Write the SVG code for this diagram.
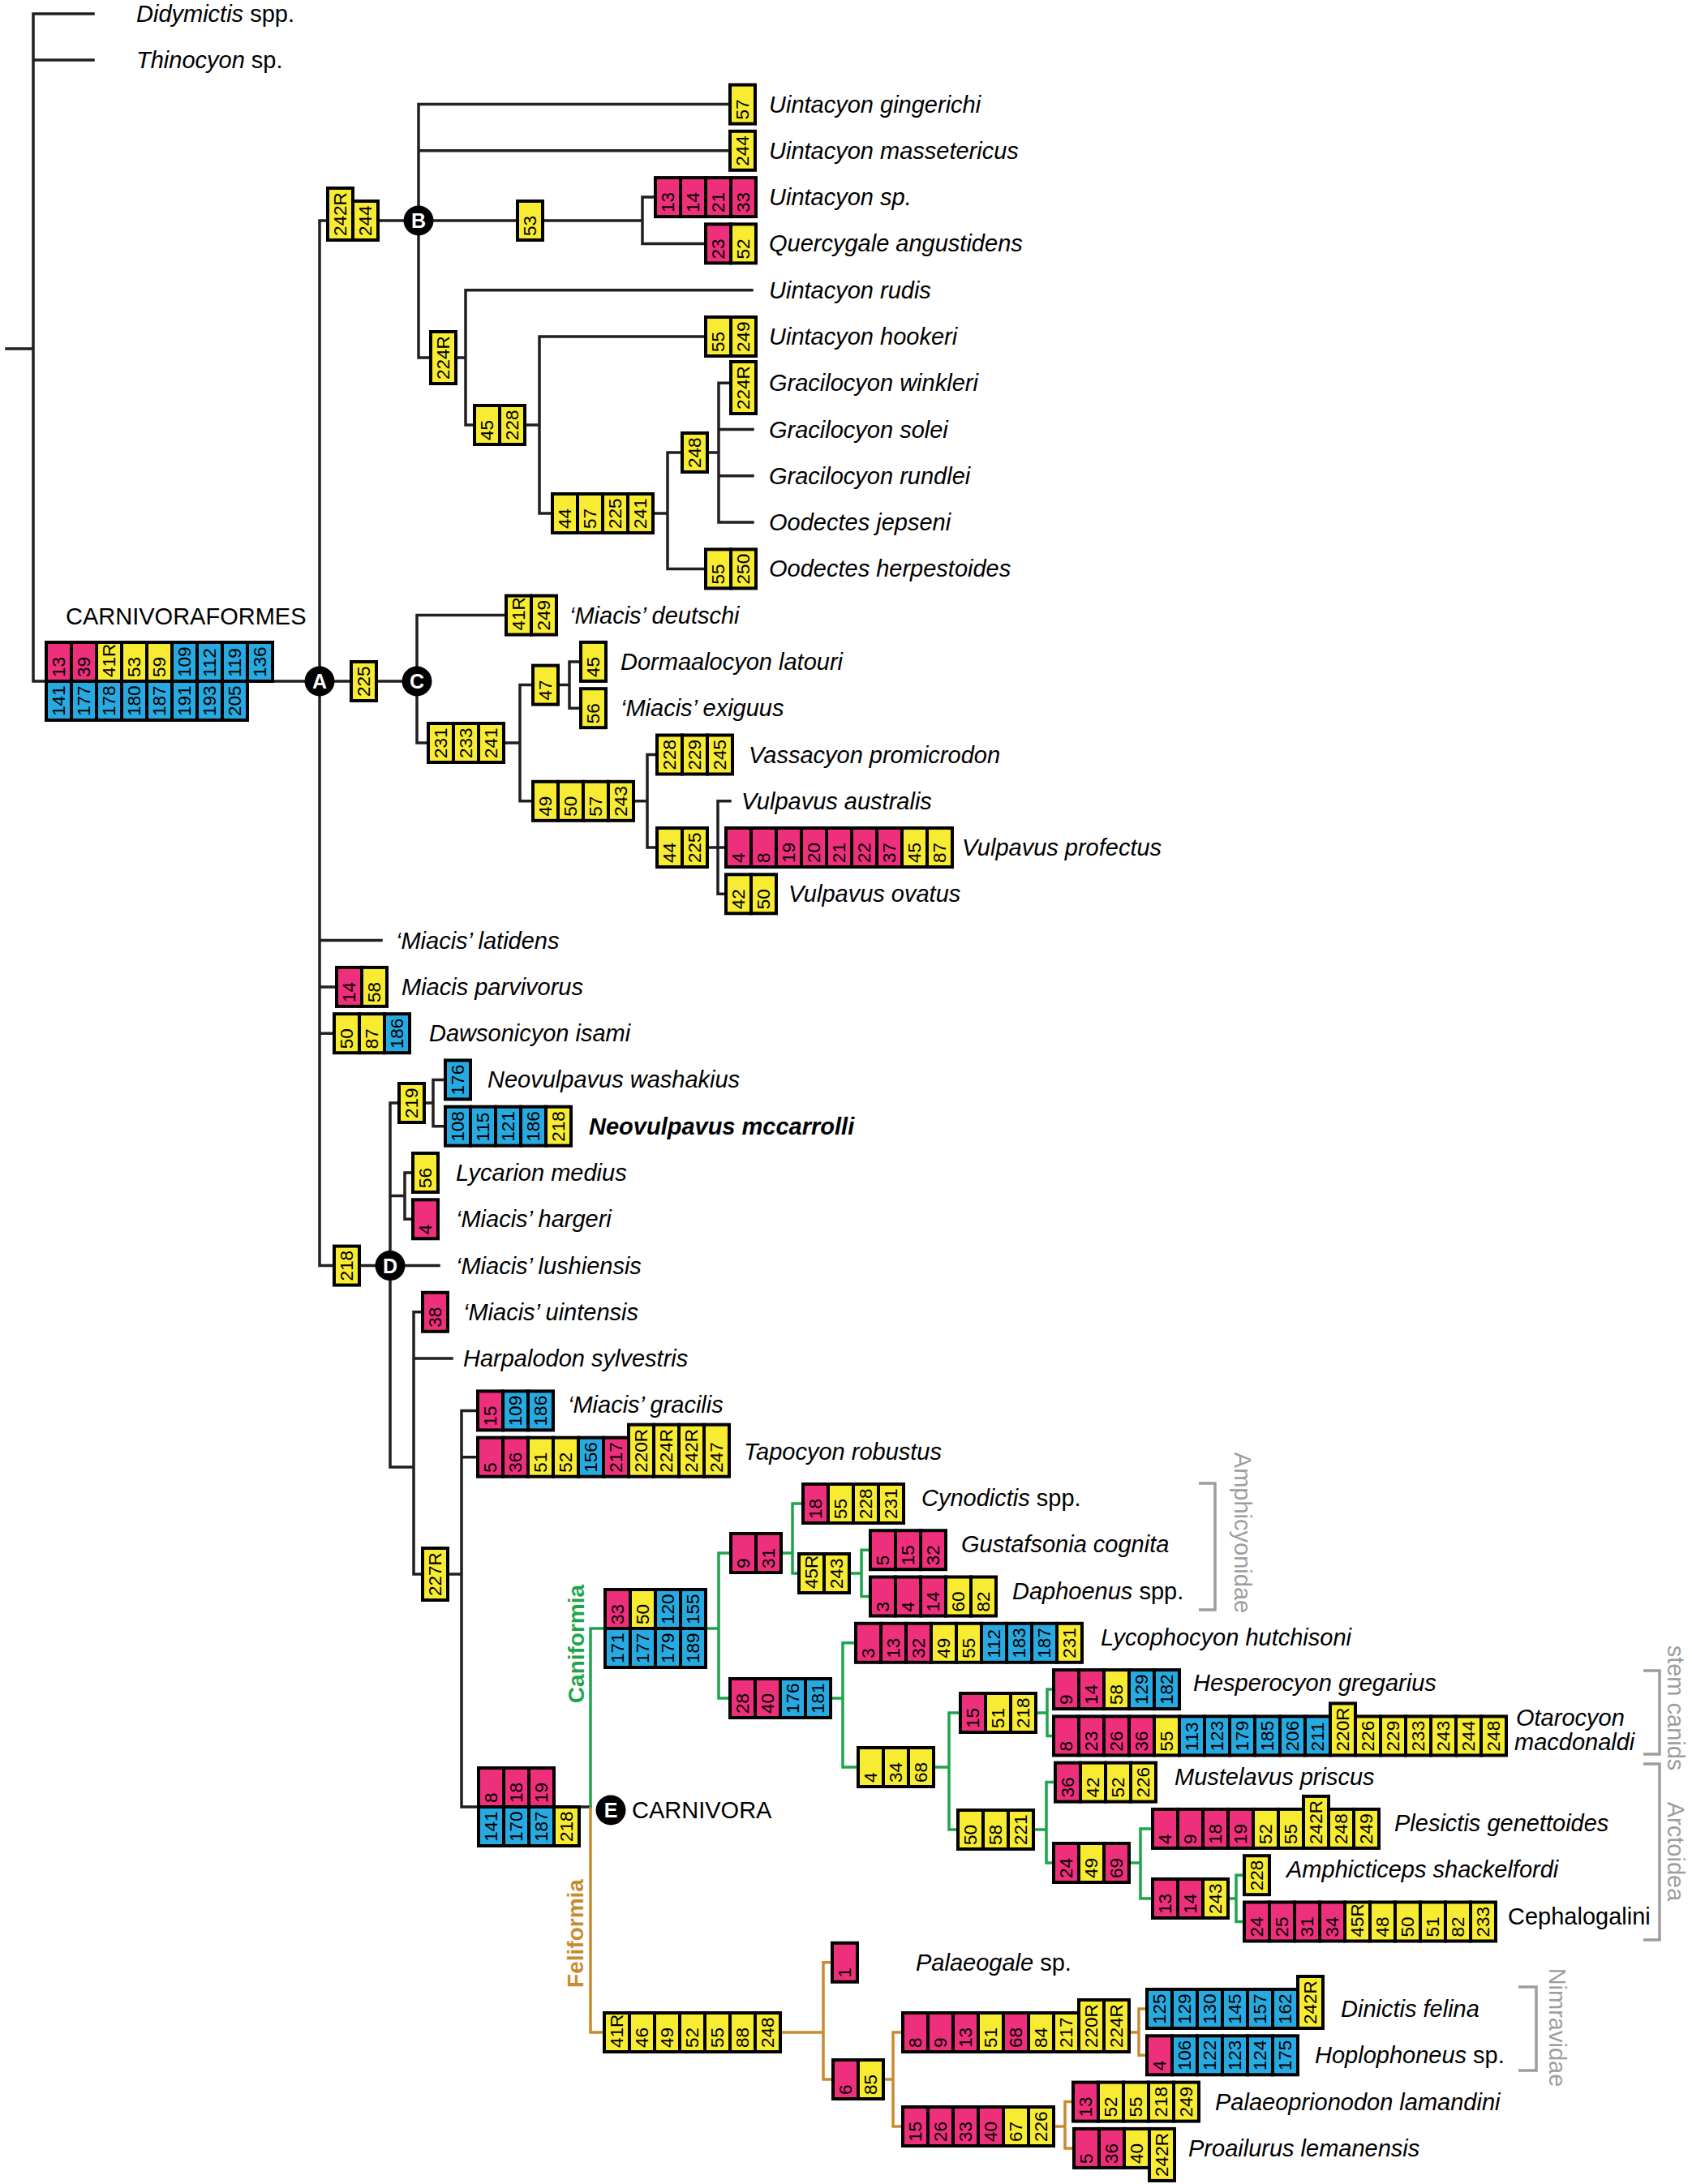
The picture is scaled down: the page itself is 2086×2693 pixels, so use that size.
<svg xmlns="http://www.w3.org/2000/svg" width="2086" height="2693" viewBox="0 0 2086 2693">
<style>
.k{fill:none;stroke:#231f20;stroke-width:3.5;stroke-linecap:square}
.gr{fill:none;stroke:#1ea54b;stroke-width:3.5;stroke-linecap:square}
.or{fill:none;stroke:#c98b32;stroke-width:3.5;stroke-linecap:square}
.br{fill:none;stroke:#9d9d9d;stroke-width:3.5}
rect{stroke:#000;stroke-width:4}
.p{fill:#ee2f7c}.y{fill:#f8ec32}.b{fill:#27aae1}
.n{font-family:"Liberation Sans",Arial,sans-serif;font-size:22.5px;fill:#000}
.t{font-family:"Liberation Sans",Arial,sans-serif;font-size:29px;font-style:italic;fill:#000}
.r{font-style:normal}
.bd{font-weight:bold}
.lab{font-family:"Liberation Sans",Arial,sans-serif;font-size:29px;fill:#000}
.gl{font-family:"Liberation Sans",Arial,sans-serif;font-size:29px;fill:#9d9d9d;text-anchor:middle}
.cl{font-family:"Liberation Sans",Arial,sans-serif;font-size:25px;font-weight:bold;fill:#fff;text-anchor:middle}
.cf{font-family:"Liberation Sans",Arial,sans-serif;font-size:28px;font-weight:bold;text-anchor:middle}
circle{fill:#000}
</style>
<g id="connectors">
<path class="k" d="M8,430H41 M41,17V840 M41,17H115 M41,74H115 M41,840H394 M394,272V1560.6 M394,272H792 M516,128.6V441 M516,128.6H900 M516,185.8H900 M792,243.1V300.4 M792,243.1H808 M792,300.4H870 M574,357.7V524 M574,357.7H927 M516,441H574 M574,524H665 M665,415V633 M665,415H870 M665,633H823 M823,558V701.4 M823,558H886 M886,472.2V644.1 M886,472.2H901 M886,529.5H928 M886,586.8H928 M886,644.1H928 M823,701.4H870 M394,840H514 M514,758.6V916 M514,758.6H624 M514,916H641 M641,844.6V987.8 M641,844.6H702 M702,815.9V873.2 M702,815.9H716 M702,873.2H716 M641,987.8H798 M798,930.5V1045 M798,930.5H810 M798,1045H885 M885,987.8V1102.3 M885,987.8H900 M885,1045H895 M885,1102.3H895 M394,1159.6H470 M394,1216.9H415 M394,1274.2H412 M394,1560.6H481 M481,1360V1809 M481,1360H534 M534,1331.4V1388.7 M534,1331.4H549 M534,1388.7H549 M481,1474.6H499 M499,1446V1503.3 M499,1446H509 M499,1503.3H509 M481,1560.6H541 M481,1809H510 M510,1617.8V1941 M510,1617.8H521 M510,1675.1H557 M510,1941H569 M569,1739.4V2228 M569,1739.4H589 M569,1796.7H589 M569,2228H728"/>
<path class="gr" d="M728,2228V2008 M728,2008H886 M886,1915V2094 M886,1915H977 M977,1854V1940 M977,1854H990 M977,1940H1062 M1062,1911.2V1968.5 M1062,1911.2H1073 M1062,1968.5H1073 M886,2094H1039 M1039,2025.8V2179 M1039,2025.8H1055 M1039,2179H1170 M1170,2112V2256 M1170,2112H1291 M1291,2083.1V2140.4 M1291,2083.1H1299 M1291,2140.4H1299 M1170,2256H1290 M1290,2197.6V2297 M1290,2197.6H1301 M1290,2297H1406 M1406,2254.9V2341 M1406,2254.9H1421 M1406,2341H1524 M1524,2312.2V2369.5 M1524,2312.2H1534 M1524,2369.5H1534"/>
<path class="or" d="M728,2230V2506 M728,2506H1015 M1015,2419.8V2564 M1015,2419.8H1026 M1015,2564H1101 M1101,2506V2622 M1101,2506H1404 M1404,2477V2534.3 M1404,2477H1414 M1404,2534.3H1414 M1101,2622H1313 M1313,2591.6V2648.9 M1313,2591.6H1323 M1313,2648.9H1324"/>
</g>
<g id="brackets">
<path class="br" d="M1478,1829H1498V1985H1478"/>
<text class="gl" transform="translate(1522,1890) rotate(90)">Amphicyonidae</text>
<path class="br" d="M2026,2060H2046V2163H2026"/>
<text class="gl" transform="translate(2056,2106) rotate(90)">stem canids</text>
<path class="br" d="M2026,2175H2046V2392H2026"/>
<text class="gl" transform="translate(2056,2283) rotate(90)">Arctoidea</text>
<path class="br" d="M1872,2450H1894V2553H1872"/>
<text class="gl" transform="translate(1910,2500) rotate(90)">Nimravidae</text>
</g>
<g id="clade-labels">
<text class="cf" fill="#1ea54b" transform="translate(720,2027) rotate(-90)">Caniformia</text>
<text class="cf" fill="#c98b32" transform="translate(719,2384) rotate(-90)">Feliformia</text>
</g>
<g id="outgroups">
<text class="t" x="168" y="27">Didymictis<tspan class="r"> spp.</tspan></text>
<text class="t" x="168" y="84">Thinocyon<tspan class="r"> sp.</tspan></text>
</g>
<g id="carnivoraformes">
<text class="lab" x="81" y="770">CARNIVORAFORMES</text>
<rect class="p" x="57" y="792" width="31" height="48"/><text class="n" transform="translate(80,835) rotate(-90)">13</text>
<rect class="p" x="88" y="792" width="31" height="48"/><text class="n" transform="translate(111,835) rotate(-90)">39</text>
<rect class="y" x="119" y="792" width="31" height="48"/><text class="n" transform="translate(142,835) rotate(-90)">41R</text>
<rect class="y" x="150" y="792" width="31" height="48"/><text class="n" transform="translate(173,835) rotate(-90)">53</text>
<rect class="y" x="181" y="792" width="31" height="48"/><text class="n" transform="translate(204,835) rotate(-90)">59</text>
<rect class="b" x="212" y="792" width="31" height="48"/><text class="n" transform="translate(235,835) rotate(-90)">109</text>
<rect class="b" x="243" y="792" width="31" height="48"/><text class="n" transform="translate(266,835) rotate(-90)">112</text>
<rect class="b" x="274" y="792" width="31" height="48"/><text class="n" transform="translate(297,835) rotate(-90)">119</text>
<rect class="b" x="305" y="792" width="31" height="48"/><text class="n" transform="translate(328,835) rotate(-90)">136</text>
<rect class="b" x="57" y="840" width="31" height="48"/><text class="n" transform="translate(80,883) rotate(-90)">141</text>
<rect class="b" x="88" y="840" width="31" height="48"/><text class="n" transform="translate(111,883) rotate(-90)">177</text>
<rect class="b" x="119" y="840" width="31" height="48"/><text class="n" transform="translate(142,883) rotate(-90)">178</text>
<rect class="b" x="150" y="840" width="31" height="48"/><text class="n" transform="translate(173,883) rotate(-90)">180</text>
<rect class="b" x="181" y="840" width="31" height="48"/><text class="n" transform="translate(204,883) rotate(-90)">187</text>
<rect class="b" x="212" y="840" width="31" height="48"/><text class="n" transform="translate(235,883) rotate(-90)">191</text>
<rect class="b" x="243" y="840" width="31" height="48"/><text class="n" transform="translate(266,883) rotate(-90)">193</text>
<rect class="b" x="274" y="840" width="31" height="48"/><text class="n" transform="translate(297,883) rotate(-90)">205</text>
</g>
<g id="node-A"><circle cx="394" cy="840" r="18.5"/><text class="cl" x="394" y="849">A</text></g>
<g id="node-B-stem">
<rect class="y" x="404" y="232" width="31" height="64"/><text class="n" transform="translate(427,291) rotate(-90)">242R</text>
<rect class="y" x="435" y="248" width="31" height="48"/><text class="n" transform="translate(458,291) rotate(-90)">244</text>
</g>
<g id="node-B"><circle cx="516" cy="272" r="18.5"/><text class="cl" x="516" y="281">B</text></g>
<g id="node-53"><rect class="y" x="638" y="248" width="31" height="48"/><text class="n" transform="translate(661,291) rotate(-90)">53</text></g>
<g id="t-gingerichi"><rect class="y" x="900" y="104.6" width="31" height="48"/><text class="n" transform="translate(923,147.6) rotate(-90)">57</text><text class="t" x="948" y="138.6">Uintacyon gingerichi</text></g>
<g id="t-massetericus"><rect class="y" x="900" y="161.8" width="31" height="48"/><text class="n" transform="translate(923,204.8) rotate(-90)">244</text><text class="t" x="948" y="195.8">Uintacyon massetericus</text></g>
<g id="t-uintacyon-sp">
<rect class="p" x="808" y="219.1" width="31" height="48"/><text class="n" transform="translate(831,262.1) rotate(-90)">13</text>
<rect class="p" x="839" y="219.1" width="31" height="48"/><text class="n" transform="translate(862,262.1) rotate(-90)">14</text>
<rect class="p" x="870" y="219.1" width="31" height="48"/><text class="n" transform="translate(893,262.1) rotate(-90)">21</text>
<rect class="p" x="901" y="219.1" width="31" height="48"/><text class="n" transform="translate(924,262.1) rotate(-90)">33</text>
<text class="t" x="948" y="253.1">Uintacyon sp.</text></g>
<g id="t-quercygale">
<rect class="p" x="870" y="276.4" width="31" height="48"/><text class="n" transform="translate(893,319.4) rotate(-90)">23</text>
<rect class="y" x="901" y="276.4" width="31" height="48"/><text class="n" transform="translate(924,319.4) rotate(-90)">52</text>
<text class="t" x="948" y="310.4">Quercygale angustidens</text></g>
<g id="t-rudis"><text class="t" x="948" y="367.7">Uintacyon rudis</text></g>
<g id="node-224R"><rect class="y" x="531" y="409" width="31" height="64"/><text class="n" transform="translate(554,468) rotate(-90)">224R</text></g>
<g id="node-45-228">
<rect class="y" x="585" y="500" width="31" height="48"/><text class="n" transform="translate(608,543) rotate(-90)">45</text>
<rect class="y" x="616" y="500" width="31" height="48"/><text class="n" transform="translate(639,543) rotate(-90)">228</text>
</g>
<g id="t-hookeri">
<rect class="y" x="870" y="391" width="31" height="48"/><text class="n" transform="translate(893,434) rotate(-90)">55</text>
<rect class="y" x="901" y="391" width="31" height="48"/><text class="n" transform="translate(924,434) rotate(-90)">249</text>
<text class="t" x="948" y="425">Uintacyon hookeri</text></g>
<g id="node-44-241">
<rect class="y" x="681" y="609" width="31" height="48"/><text class="n" transform="translate(704,652) rotate(-90)">44</text>
<rect class="y" x="712" y="609" width="31" height="48"/><text class="n" transform="translate(735,652) rotate(-90)">57</text>
<rect class="y" x="743" y="609" width="31" height="48"/><text class="n" transform="translate(766,652) rotate(-90)">225</text>
<rect class="y" x="774" y="609" width="31" height="48"/><text class="n" transform="translate(797,652) rotate(-90)">241</text>
</g>
<g id="node-248"><rect class="y" x="841" y="534" width="31" height="48"/><text class="n" transform="translate(864,577) rotate(-90)">248</text></g>
<g id="t-winkleri"><rect class="y" x="901" y="446" width="31" height="64"/><text class="n" transform="translate(924,505) rotate(-90)">224R</text><text class="t" x="948" y="482.2">Gracilocyon winkleri</text></g>
<g id="t-solei"><text class="t" x="948" y="539.5">Gracilocyon solei</text></g>
<g id="t-rundlei"><text class="t" x="948" y="596.8">Gracilocyon rundlei</text></g>
<g id="t-jepseni"><text class="t" x="948" y="654.1">Oodectes jepseni</text></g>
<g id="t-herpestoides">
<rect class="y" x="870" y="677.4" width="31" height="48"/><text class="n" transform="translate(893,720.4) rotate(-90)">55</text>
<rect class="y" x="901" y="677.4" width="31" height="48"/><text class="n" transform="translate(924,720.4) rotate(-90)">250</text>
<text class="t" x="948" y="711.4">Oodectes herpestoides</text></g>
<g id="node-225"><rect class="y" x="433" y="816" width="31" height="48"/><text class="n" transform="translate(456,859) rotate(-90)">225</text></g>
<g id="node-C"><circle cx="514" cy="840" r="18.5"/><text class="cl" x="514" y="849">C</text></g>
<g id="t-deutschi">
<rect class="y" x="624" y="734.6" width="31" height="48"/><text class="n" transform="translate(647,777.6) rotate(-90)">41R</text>
<rect class="y" x="655" y="734.6" width="31" height="48"/><text class="n" transform="translate(678,777.6) rotate(-90)">249</text>
<text class="t" x="702" y="768.6">‘Miacis’ deutschi</text></g>
<g id="node-231-241">
<rect class="y" x="528" y="892" width="31" height="48"/><text class="n" transform="translate(551,935) rotate(-90)">231</text>
<rect class="y" x="559" y="892" width="31" height="48"/><text class="n" transform="translate(582,935) rotate(-90)">233</text>
<rect class="y" x="590" y="892" width="31" height="48"/><text class="n" transform="translate(613,935) rotate(-90)">241</text>
</g>
<g id="node-47"><rect class="y" x="657" y="820.6" width="31" height="48"/><text class="n" transform="translate(680,863.6) rotate(-90)">47</text></g>
<g id="t-dormaalocyon"><rect class="y" x="716" y="791.9" width="31" height="48"/><text class="n" transform="translate(739,834.9) rotate(-90)">45</text><text class="t" x="765" y="825.9">Dormaalocyon latouri</text></g>
<g id="t-exiguus"><rect class="y" x="716" y="849.2" width="31" height="48"/><text class="n" transform="translate(739,892.2) rotate(-90)">56</text><text class="t" x="765" y="883.2">‘Miacis’ exiguus</text></g>
<g id="node-49-243">
<rect class="y" x="657" y="963.8" width="31" height="48"/><text class="n" transform="translate(680,1006.8) rotate(-90)">49</text>
<rect class="y" x="688" y="963.8" width="31" height="48"/><text class="n" transform="translate(711,1006.8) rotate(-90)">50</text>
<rect class="y" x="719" y="963.8" width="31" height="48"/><text class="n" transform="translate(742,1006.8) rotate(-90)">57</text>
<rect class="y" x="750" y="963.8" width="31" height="48"/><text class="n" transform="translate(773,1006.8) rotate(-90)">243</text>
</g>
<g id="t-vassacyon">
<rect class="y" x="810" y="906.5" width="31" height="48"/><text class="n" transform="translate(833,949.5) rotate(-90)">228</text>
<rect class="y" x="841" y="906.5" width="31" height="48"/><text class="n" transform="translate(864,949.5) rotate(-90)">229</text>
<rect class="y" x="872" y="906.5" width="31" height="48"/><text class="n" transform="translate(895,949.5) rotate(-90)">245</text>
<text class="t" x="923" y="940.5">Vassacyon promicrodon</text></g>
<g id="node-44-225">
<rect class="y" x="810" y="1021" width="31" height="48"/><text class="n" transform="translate(833,1064) rotate(-90)">44</text>
<rect class="y" x="841" y="1021" width="31" height="48"/><text class="n" transform="translate(864,1064) rotate(-90)">225</text>
</g>
<g id="t-australis"><text class="t" x="914" y="997.8">Vulpavus australis</text></g>
<g id="t-profectus">
<rect class="p" x="895" y="1021" width="31" height="48"/><text class="n" transform="translate(918,1064) rotate(-90)">4</text>
<rect class="p" x="926" y="1021" width="31" height="48"/><text class="n" transform="translate(949,1064) rotate(-90)">8</text>
<rect class="p" x="957" y="1021" width="31" height="48"/><text class="n" transform="translate(980,1064) rotate(-90)">19</text>
<rect class="p" x="988" y="1021" width="31" height="48"/><text class="n" transform="translate(1011,1064) rotate(-90)">20</text>
<rect class="p" x="1019" y="1021" width="31" height="48"/><text class="n" transform="translate(1042,1064) rotate(-90)">21</text>
<rect class="p" x="1050" y="1021" width="31" height="48"/><text class="n" transform="translate(1073,1064) rotate(-90)">22</text>
<rect class="p" x="1081" y="1021" width="31" height="48"/><text class="n" transform="translate(1104,1064) rotate(-90)">37</text>
<rect class="y" x="1112" y="1021" width="31" height="48"/><text class="n" transform="translate(1135,1064) rotate(-90)">45</text>
<rect class="y" x="1143" y="1021" width="31" height="48"/><text class="n" transform="translate(1166,1064) rotate(-90)">87</text>
<text class="t" x="1186" y="1055">Vulpavus profectus</text></g>
<g id="t-ovatus">
<rect class="y" x="895" y="1078.3" width="31" height="48"/><text class="n" transform="translate(918,1121.3) rotate(-90)">42</text>
<rect class="y" x="926" y="1078.3" width="31" height="48"/><text class="n" transform="translate(949,1121.3) rotate(-90)">50</text>
<text class="t" x="972" y="1112.3">Vulpavus ovatus</text></g>
<g id="t-latidens"><text class="t" x="488" y="1169.6">‘Miacis’ latidens</text></g>
<g id="t-parvivorus">
<rect class="p" x="415" y="1192.9" width="31" height="48"/><text class="n" transform="translate(438,1235.9) rotate(-90)">14</text>
<rect class="y" x="446" y="1192.9" width="31" height="48"/><text class="n" transform="translate(469,1235.9) rotate(-90)">58</text>
<text class="t" x="495" y="1226.9">Miacis parvivorus</text></g>
<g id="t-dawsonicyon">
<rect class="y" x="412" y="1250.2" width="31" height="48"/><text class="n" transform="translate(435,1293.2) rotate(-90)">50</text>
<rect class="y" x="443" y="1250.2" width="31" height="48"/><text class="n" transform="translate(466,1293.2) rotate(-90)">87</text>
<rect class="b" x="474" y="1250.2" width="31" height="48"/><text class="n" transform="translate(497,1293.2) rotate(-90)">186</text>
<text class="t" x="529" y="1284.2">Dawsonicyon isami</text></g>
<g id="node-218"><rect class="y" x="412" y="1536.6" width="31" height="48"/><text class="n" transform="translate(435,1579.6) rotate(-90)">218</text></g>
<g id="node-D"><circle cx="481" cy="1560.6" r="18.5"/><text class="cl" x="481" y="1569.6">D</text></g>
<g id="node-219"><rect class="y" x="492" y="1336" width="31" height="48"/><text class="n" transform="translate(515,1379) rotate(-90)">219</text></g>
<g id="t-washakius"><rect class="b" x="549" y="1307.4" width="31" height="48"/><text class="n" transform="translate(572,1350.4) rotate(-90)">176</text><text class="t" x="601" y="1341.4">Neovulpavus washakius</text></g>
<g id="t-mccarrolli">
<rect class="b" x="549" y="1364.7" width="31" height="48"/><text class="n" transform="translate(572,1407.7) rotate(-90)">108</text>
<rect class="b" x="580" y="1364.7" width="31" height="48"/><text class="n" transform="translate(603,1407.7) rotate(-90)">115</text>
<rect class="b" x="611" y="1364.7" width="31" height="48"/><text class="n" transform="translate(634,1407.7) rotate(-90)">121</text>
<rect class="b" x="642" y="1364.7" width="31" height="48"/><text class="n" transform="translate(665,1407.7) rotate(-90)">186</text>
<rect class="y" x="673" y="1364.7" width="31" height="48"/><text class="n" transform="translate(696,1407.7) rotate(-90)">218</text>
<text class="t bd" x="726" y="1398.7">Neovulpavus mccarrolli</text></g>
<g id="t-lycarion"><rect class="y" x="509" y="1422" width="31" height="48"/><text class="n" transform="translate(532,1465) rotate(-90)">56</text><text class="t" x="562" y="1456">Lycarion medius</text></g>
<g id="t-hargeri"><rect class="p" x="509" y="1479.3" width="31" height="48"/><text class="n" transform="translate(532,1522.3) rotate(-90)">4</text><text class="t" x="562" y="1513.3">‘Miacis’ hargeri</text></g>
<g id="t-lushiensis"><text class="t" x="562" y="1570.6">‘Miacis’ lushiensis</text></g>
<g id="t-uintensis"><rect class="p" x="521" y="1593.8" width="31" height="48"/><text class="n" transform="translate(544,1636.8) rotate(-90)">38</text><text class="t" x="571" y="1627.8">‘Miacis’ uintensis</text></g>
<g id="t-harpalodon"><text class="t" x="571" y="1685.1">Harpalodon sylvestris</text></g>
<g id="node-227R"><rect class="y" x="521" y="1909" width="31" height="64"/><text class="n" transform="translate(544,1968) rotate(-90)">227R</text></g>
<g id="t-gracilis">
<rect class="p" x="589" y="1715.4" width="31" height="48"/><text class="n" transform="translate(612,1758.4) rotate(-90)">15</text>
<rect class="b" x="620" y="1715.4" width="31" height="48"/><text class="n" transform="translate(643,1758.4) rotate(-90)">109</text>
<rect class="b" x="651" y="1715.4" width="31" height="48"/><text class="n" transform="translate(674,1758.4) rotate(-90)">186</text>
<text class="t" x="700" y="1742.4">‘Miacis’ gracilis</text></g>
<g id="t-tapocyon">
<rect class="p" x="589" y="1772.7" width="31" height="48"/><text class="n" transform="translate(612,1815.7) rotate(-90)">5</text>
<rect class="p" x="620" y="1772.7" width="31" height="48"/><text class="n" transform="translate(643,1815.7) rotate(-90)">36</text>
<rect class="y" x="651" y="1772.7" width="31" height="48"/><text class="n" transform="translate(674,1815.7) rotate(-90)">51</text>
<rect class="y" x="682" y="1772.7" width="31" height="48"/><text class="n" transform="translate(705,1815.7) rotate(-90)">52</text>
<rect class="b" x="713" y="1772.7" width="31" height="48"/><text class="n" transform="translate(736,1815.7) rotate(-90)">156</text>
<rect class="p" x="744" y="1772.7" width="31" height="48"/><text class="n" transform="translate(767,1815.7) rotate(-90)">217</text>
<rect class="y" x="775" y="1756.7" width="31" height="64"/><text class="n" transform="translate(798,1815.7) rotate(-90)">220R</text>
<rect class="y" x="806" y="1756.7" width="31" height="64"/><text class="n" transform="translate(829,1815.7) rotate(-90)">224R</text>
<rect class="y" x="837" y="1756.7" width="31" height="64"/><text class="n" transform="translate(860,1815.7) rotate(-90)">242R</text>
<rect class="y" x="868" y="1756.7" width="31" height="64"/><text class="n" transform="translate(891,1815.7) rotate(-90)">247</text>
<text class="t" x="917" y="1799.7">Tapocyon robustus</text></g>
<g id="node-carnivora-stem">
<rect class="p" x="590" y="2180" width="31" height="48"/><text class="n" transform="translate(613,2223) rotate(-90)">8</text>
<rect class="p" x="621" y="2180" width="31" height="48"/><text class="n" transform="translate(644,2223) rotate(-90)">18</text>
<rect class="p" x="652" y="2180" width="31" height="48"/><text class="n" transform="translate(675,2223) rotate(-90)">19</text>
<rect class="b" x="590" y="2228" width="31" height="48"/><text class="n" transform="translate(613,2271) rotate(-90)">141</text>
<rect class="b" x="621" y="2228" width="31" height="48"/><text class="n" transform="translate(644,2271) rotate(-90)">170</text>
<rect class="b" x="652" y="2228" width="31" height="48"/><text class="n" transform="translate(675,2271) rotate(-90)">187</text>
<rect class="y" x="683" y="2228" width="31" height="48"/><text class="n" transform="translate(706,2271) rotate(-90)">218</text>
</g>
<g id="node-E"><circle cx="753" cy="2232" r="18.5"/><text class="cl" x="753" y="2241">E</text><text class="lab" x="779" y="2242">CARNIVORA</text></g>
<g id="node-caniformia">
<rect class="p" x="746" y="1960" width="31" height="48"/><text class="n" transform="translate(769,2003) rotate(-90)">33</text>
<rect class="y" x="777" y="1960" width="31" height="48"/><text class="n" transform="translate(800,2003) rotate(-90)">50</text>
<rect class="b" x="808" y="1960" width="31" height="48"/><text class="n" transform="translate(831,2003) rotate(-90)">120</text>
<rect class="b" x="839" y="1960" width="31" height="48"/><text class="n" transform="translate(862,2003) rotate(-90)">155</text>
<rect class="b" x="746" y="2008" width="31" height="48"/><text class="n" transform="translate(769,2051) rotate(-90)">171</text>
<rect class="b" x="777" y="2008" width="31" height="48"/><text class="n" transform="translate(800,2051) rotate(-90)">177</text>
<rect class="b" x="808" y="2008" width="31" height="48"/><text class="n" transform="translate(831,2051) rotate(-90)">179</text>
<rect class="b" x="839" y="2008" width="31" height="48"/><text class="n" transform="translate(862,2051) rotate(-90)">189</text>
</g>
<g id="node-9-31">
<rect class="p" x="901" y="1891" width="31" height="48"/><text class="n" transform="translate(924,1934) rotate(-90)">9</text>
<rect class="p" x="932" y="1891" width="31" height="48"/><text class="n" transform="translate(955,1934) rotate(-90)">31</text>
</g>
<g id="t-cynodictis">
<rect class="p" x="990" y="1830" width="31" height="48"/><text class="n" transform="translate(1013,1873) rotate(-90)">18</text>
<rect class="y" x="1021" y="1830" width="31" height="48"/><text class="n" transform="translate(1044,1873) rotate(-90)">55</text>
<rect class="y" x="1052" y="1830" width="31" height="48"/><text class="n" transform="translate(1075,1873) rotate(-90)">228</text>
<rect class="y" x="1083" y="1830" width="31" height="48"/><text class="n" transform="translate(1106,1873) rotate(-90)">231</text>
<text class="t" x="1136" y="1857">Cynodictis<tspan class="r"> spp.</tspan></text></g>
<g id="node-45R-243">
<rect class="y" x="985" y="1916" width="31" height="48"/><text class="n" transform="translate(1008,1959) rotate(-90)">45R</text>
<rect class="y" x="1016" y="1916" width="31" height="48"/><text class="n" transform="translate(1039,1959) rotate(-90)">243</text>
</g>
<g id="t-gustafsonia">
<rect class="p" x="1073" y="1887.2" width="31" height="48"/><text class="n" transform="translate(1096,1930.2) rotate(-90)">5</text>
<rect class="p" x="1104" y="1887.2" width="31" height="48"/><text class="n" transform="translate(1127,1930.2) rotate(-90)">15</text>
<rect class="p" x="1135" y="1887.2" width="31" height="48"/><text class="n" transform="translate(1158,1930.2) rotate(-90)">32</text>
<text class="t" x="1185" y="1914.2">Gustafsonia cognita</text></g>
<g id="t-daphoenus">
<rect class="p" x="1073" y="1944.5" width="31" height="48"/><text class="n" transform="translate(1096,1987.5) rotate(-90)">3</text>
<rect class="p" x="1104" y="1944.5" width="31" height="48"/><text class="n" transform="translate(1127,1987.5) rotate(-90)">4</text>
<rect class="p" x="1135" y="1944.5" width="31" height="48"/><text class="n" transform="translate(1158,1987.5) rotate(-90)">14</text>
<rect class="y" x="1166" y="1944.5" width="31" height="48"/><text class="n" transform="translate(1189,1987.5) rotate(-90)">60</text>
<rect class="y" x="1197" y="1944.5" width="31" height="48"/><text class="n" transform="translate(1220,1987.5) rotate(-90)">82</text>
<text class="t" x="1248" y="1971.5">Daphoenus<tspan class="r"> spp.</tspan></text></g>
<g id="node-28-181">
<rect class="p" x="900" y="2070" width="31" height="48"/><text class="n" transform="translate(923,2113) rotate(-90)">28</text>
<rect class="p" x="931" y="2070" width="31" height="48"/><text class="n" transform="translate(954,2113) rotate(-90)">40</text>
<rect class="b" x="962" y="2070" width="31" height="48"/><text class="n" transform="translate(985,2113) rotate(-90)">176</text>
<rect class="b" x="993" y="2070" width="31" height="48"/><text class="n" transform="translate(1016,2113) rotate(-90)">181</text>
</g>
<g id="t-lycophocyon">
<rect class="p" x="1055" y="2001.8" width="31" height="48"/><text class="n" transform="translate(1078,2044.8) rotate(-90)">3</text>
<rect class="p" x="1086" y="2001.8" width="31" height="48"/><text class="n" transform="translate(1109,2044.8) rotate(-90)">13</text>
<rect class="p" x="1117" y="2001.8" width="31" height="48"/><text class="n" transform="translate(1140,2044.8) rotate(-90)">32</text>
<rect class="y" x="1148" y="2001.8" width="31" height="48"/><text class="n" transform="translate(1171,2044.8) rotate(-90)">49</text>
<rect class="y" x="1179" y="2001.8" width="31" height="48"/><text class="n" transform="translate(1202,2044.8) rotate(-90)">55</text>
<rect class="b" x="1210" y="2001.8" width="31" height="48"/><text class="n" transform="translate(1233,2044.8) rotate(-90)">112</text>
<rect class="b" x="1241" y="2001.8" width="31" height="48"/><text class="n" transform="translate(1264,2044.8) rotate(-90)">183</text>
<rect class="b" x="1272" y="2001.8" width="31" height="48"/><text class="n" transform="translate(1295,2044.8) rotate(-90)">187</text>
<rect class="y" x="1303" y="2001.8" width="31" height="48"/><text class="n" transform="translate(1326,2044.8) rotate(-90)">231</text>
<text class="t" x="1357" y="2028.8">Lycophocyon hutchisoni</text></g>
<g id="node-4-68">
<rect class="y" x="1058" y="2155" width="31" height="48"/><text class="n" transform="translate(1081,2198) rotate(-90)">4</text>
<rect class="y" x="1089" y="2155" width="31" height="48"/><text class="n" transform="translate(1112,2198) rotate(-90)">34</text>
<rect class="y" x="1120" y="2155" width="31" height="48"/><text class="n" transform="translate(1143,2198) rotate(-90)">68</text>
</g>
<g id="node-15-218">
<rect class="p" x="1184" y="2088" width="31" height="48"/><text class="n" transform="translate(1207,2131) rotate(-90)">15</text>
<rect class="y" x="1215" y="2088" width="31" height="48"/><text class="n" transform="translate(1238,2131) rotate(-90)">51</text>
<rect class="y" x="1246" y="2088" width="31" height="48"/><text class="n" transform="translate(1269,2131) rotate(-90)">218</text>
</g>
<g id="t-hesperocyon">
<rect class="p" x="1299" y="2059.1" width="31" height="48"/><text class="n" transform="translate(1322,2102.1) rotate(-90)">9</text>
<rect class="p" x="1330" y="2059.1" width="31" height="48"/><text class="n" transform="translate(1353,2102.1) rotate(-90)">14</text>
<rect class="y" x="1361" y="2059.1" width="31" height="48"/><text class="n" transform="translate(1384,2102.1) rotate(-90)">58</text>
<rect class="b" x="1392" y="2059.1" width="31" height="48"/><text class="n" transform="translate(1415,2102.1) rotate(-90)">129</text>
<rect class="b" x="1423" y="2059.1" width="31" height="48"/><text class="n" transform="translate(1446,2102.1) rotate(-90)">182</text>
<text class="t" x="1471" y="2085">Hesperocyon gregarius</text></g>
<g id="t-otarocyon">
<rect class="p" x="1299" y="2116.4" width="31" height="48"/><text class="n" transform="translate(1322,2159.4) rotate(-90)">8</text>
<rect class="p" x="1330" y="2116.4" width="31" height="48"/><text class="n" transform="translate(1353,2159.4) rotate(-90)">23</text>
<rect class="p" x="1361" y="2116.4" width="31" height="48"/><text class="n" transform="translate(1384,2159.4) rotate(-90)">26</text>
<rect class="p" x="1392" y="2116.4" width="31" height="48"/><text class="n" transform="translate(1415,2159.4) rotate(-90)">36</text>
<rect class="y" x="1423" y="2116.4" width="31" height="48"/><text class="n" transform="translate(1446,2159.4) rotate(-90)">55</text>
<rect class="b" x="1454" y="2116.4" width="31" height="48"/><text class="n" transform="translate(1477,2159.4) rotate(-90)">113</text>
<rect class="b" x="1485" y="2116.4" width="31" height="48"/><text class="n" transform="translate(1508,2159.4) rotate(-90)">123</text>
<rect class="b" x="1516" y="2116.4" width="31" height="48"/><text class="n" transform="translate(1539,2159.4) rotate(-90)">179</text>
<rect class="b" x="1547" y="2116.4" width="31" height="48"/><text class="n" transform="translate(1570,2159.4) rotate(-90)">185</text>
<rect class="b" x="1578" y="2116.4" width="31" height="48"/><text class="n" transform="translate(1601,2159.4) rotate(-90)">206</text>
<rect class="b" x="1609" y="2116.4" width="31" height="48"/><text class="n" transform="translate(1632,2159.4) rotate(-90)">211</text>
<rect class="y" x="1640" y="2100.4" width="31" height="64"/><text class="n" transform="translate(1663,2159.4) rotate(-90)">220R</text>
<rect class="y" x="1671" y="2116.4" width="31" height="48"/><text class="n" transform="translate(1694,2159.4) rotate(-90)">226</text>
<rect class="y" x="1702" y="2116.4" width="31" height="48"/><text class="n" transform="translate(1725,2159.4) rotate(-90)">229</text>
<rect class="y" x="1733" y="2116.4" width="31" height="48"/><text class="n" transform="translate(1756,2159.4) rotate(-90)">233</text>
<rect class="y" x="1764" y="2116.4" width="31" height="48"/><text class="n" transform="translate(1787,2159.4) rotate(-90)">243</text>
<rect class="y" x="1795" y="2116.4" width="31" height="48"/><text class="n" transform="translate(1818,2159.4) rotate(-90)">244</text>
<rect class="y" x="1826" y="2116.4" width="31" height="48"/><text class="n" transform="translate(1849,2159.4) rotate(-90)">248</text>
<text class="t" x="1869" y="2128">Otarocyon</text><text class="t" x="1867" y="2158">macdonaldi</text></g>
<g id="node-50-221">
<rect class="y" x="1181" y="2232" width="31" height="48"/><text class="n" transform="translate(1204,2275) rotate(-90)">50</text>
<rect class="y" x="1212" y="2232" width="31" height="48"/><text class="n" transform="translate(1235,2275) rotate(-90)">58</text>
<rect class="y" x="1243" y="2232" width="31" height="48"/><text class="n" transform="translate(1266,2275) rotate(-90)">221</text>
</g>
<g id="t-mustelavus">
<rect class="p" x="1301" y="2173.6" width="31" height="48"/><text class="n" transform="translate(1324,2216.6) rotate(-90)">36</text>
<rect class="y" x="1332" y="2173.6" width="31" height="48"/><text class="n" transform="translate(1355,2216.6) rotate(-90)">42</text>
<rect class="y" x="1363" y="2173.6" width="31" height="48"/><text class="n" transform="translate(1386,2216.6) rotate(-90)">52</text>
<rect class="y" x="1394" y="2173.6" width="31" height="48"/><text class="n" transform="translate(1417,2216.6) rotate(-90)">226</text>
<text class="t" x="1448" y="2200.6">Mustelavus priscus</text></g>
<g id="node-24-69">
<rect class="p" x="1299" y="2273" width="31" height="48"/><text class="n" transform="translate(1322,2316) rotate(-90)">24</text>
<rect class="y" x="1330" y="2273" width="31" height="48"/><text class="n" transform="translate(1353,2316) rotate(-90)">49</text>
<rect class="p" x="1361" y="2273" width="31" height="48"/><text class="n" transform="translate(1384,2316) rotate(-90)">69</text>
</g>
<g id="t-plesictis">
<rect class="p" x="1421" y="2230.9" width="31" height="48"/><text class="n" transform="translate(1444,2273.9) rotate(-90)">4</text>
<rect class="p" x="1452" y="2230.9" width="31" height="48"/><text class="n" transform="translate(1475,2273.9) rotate(-90)">9</text>
<rect class="p" x="1483" y="2230.9" width="31" height="48"/><text class="n" transform="translate(1506,2273.9) rotate(-90)">18</text>
<rect class="p" x="1514" y="2230.9" width="31" height="48"/><text class="n" transform="translate(1537,2273.9) rotate(-90)">19</text>
<rect class="y" x="1545" y="2230.9" width="31" height="48"/><text class="n" transform="translate(1568,2273.9) rotate(-90)">52</text>
<rect class="y" x="1576" y="2230.9" width="31" height="48"/><text class="n" transform="translate(1599,2273.9) rotate(-90)">55</text>
<rect class="y" x="1607" y="2214.9" width="31" height="64"/><text class="n" transform="translate(1630,2273.9) rotate(-90)">242R</text>
<rect class="y" x="1638" y="2230.9" width="31" height="48"/><text class="n" transform="translate(1661,2273.9) rotate(-90)">248</text>
<rect class="y" x="1669" y="2230.9" width="31" height="48"/><text class="n" transform="translate(1692,2273.9) rotate(-90)">249</text>
<text class="t" x="1719" y="2257.9">Plesictis genettoides</text></g>
<g id="node-13-243">
<rect class="p" x="1421" y="2317" width="31" height="48"/><text class="n" transform="translate(1444,2360) rotate(-90)">13</text>
<rect class="p" x="1452" y="2317" width="31" height="48"/><text class="n" transform="translate(1475,2360) rotate(-90)">14</text>
<rect class="y" x="1483" y="2317" width="31" height="48"/><text class="n" transform="translate(1506,2360) rotate(-90)">243</text>
</g>
<g id="t-amphicticeps"><rect class="y" x="1534" y="2288.2" width="31" height="48"/><text class="n" transform="translate(1557,2331.2) rotate(-90)">228</text><text class="t" x="1586" y="2315.2">Amphicticeps shackelfordi</text></g>
<g id="t-cephalogalini">
<rect class="p" x="1534" y="2345.5" width="31" height="48"/><text class="n" transform="translate(1557,2388.5) rotate(-90)">24</text>
<rect class="p" x="1565" y="2345.5" width="31" height="48"/><text class="n" transform="translate(1588,2388.5) rotate(-90)">25</text>
<rect class="p" x="1596" y="2345.5" width="31" height="48"/><text class="n" transform="translate(1619,2388.5) rotate(-90)">31</text>
<rect class="p" x="1627" y="2345.5" width="31" height="48"/><text class="n" transform="translate(1650,2388.5) rotate(-90)">34</text>
<rect class="y" x="1658" y="2345.5" width="31" height="48"/><text class="n" transform="translate(1681,2388.5) rotate(-90)">45R</text>
<rect class="y" x="1689" y="2345.5" width="31" height="48"/><text class="n" transform="translate(1712,2388.5) rotate(-90)">48</text>
<rect class="y" x="1720" y="2345.5" width="31" height="48"/><text class="n" transform="translate(1743,2388.5) rotate(-90)">50</text>
<rect class="y" x="1751" y="2345.5" width="31" height="48"/><text class="n" transform="translate(1774,2388.5) rotate(-90)">51</text>
<rect class="y" x="1782" y="2345.5" width="31" height="48"/><text class="n" transform="translate(1805,2388.5) rotate(-90)">82</text>
<rect class="y" x="1813" y="2345.5" width="31" height="48"/><text class="n" transform="translate(1836,2388.5) rotate(-90)">233</text>
<text class="lab" x="1859" y="2372.5">Cephalogalini</text></g>
<g id="node-feliformia">
<rect class="y" x="745" y="2482" width="31" height="48"/><text class="n" transform="translate(768,2525) rotate(-90)">41R</text>
<rect class="y" x="776" y="2482" width="31" height="48"/><text class="n" transform="translate(799,2525) rotate(-90)">46</text>
<rect class="y" x="807" y="2482" width="31" height="48"/><text class="n" transform="translate(830,2525) rotate(-90)">49</text>
<rect class="y" x="838" y="2482" width="31" height="48"/><text class="n" transform="translate(861,2525) rotate(-90)">52</text>
<rect class="y" x="869" y="2482" width="31" height="48"/><text class="n" transform="translate(892,2525) rotate(-90)">55</text>
<rect class="y" x="900" y="2482" width="31" height="48"/><text class="n" transform="translate(923,2525) rotate(-90)">88</text>
<rect class="y" x="931" y="2482" width="31" height="48"/><text class="n" transform="translate(954,2525) rotate(-90)">248</text>
</g>
<g id="t-palaeogale"><rect class="p" x="1026" y="2395.8" width="31" height="48"/><text class="n" transform="translate(1049,2438.8) rotate(-90)">1</text><text class="t" x="1129" y="2429.8">Palaeogale<tspan class="r"> sp.</tspan></text></g>
<g id="node-6-85">
<rect class="p" x="1027" y="2540" width="31" height="48"/><text class="n" transform="translate(1050,2583) rotate(-90)">6</text>
<rect class="y" x="1058" y="2540" width="31" height="48"/><text class="n" transform="translate(1081,2583) rotate(-90)">85</text>
</g>
<g id="node-nimravid-stem">
<rect class="p" x="1113" y="2482" width="31" height="48"/><text class="n" transform="translate(1136,2525) rotate(-90)">8</text>
<rect class="p" x="1144" y="2482" width="31" height="48"/><text class="n" transform="translate(1167,2525) rotate(-90)">9</text>
<rect class="p" x="1175" y="2482" width="31" height="48"/><text class="n" transform="translate(1198,2525) rotate(-90)">13</text>
<rect class="y" x="1206" y="2482" width="31" height="48"/><text class="n" transform="translate(1229,2525) rotate(-90)">51</text>
<rect class="p" x="1237" y="2482" width="31" height="48"/><text class="n" transform="translate(1260,2525) rotate(-90)">68</text>
<rect class="y" x="1268" y="2482" width="31" height="48"/><text class="n" transform="translate(1291,2525) rotate(-90)">84</text>
<rect class="y" x="1299" y="2482" width="31" height="48"/><text class="n" transform="translate(1322,2525) rotate(-90)">217</text>
<rect class="y" x="1330" y="2466" width="31" height="64"/><text class="n" transform="translate(1353,2525) rotate(-90)">220R</text>
<rect class="y" x="1361" y="2466" width="31" height="64"/><text class="n" transform="translate(1384,2525) rotate(-90)">224R</text>
</g>
<g id="t-dinictis">
<rect class="b" x="1414" y="2453" width="31" height="48"/><text class="n" transform="translate(1437,2496) rotate(-90)">125</text>
<rect class="b" x="1445" y="2453" width="31" height="48"/><text class="n" transform="translate(1468,2496) rotate(-90)">129</text>
<rect class="b" x="1476" y="2453" width="31" height="48"/><text class="n" transform="translate(1499,2496) rotate(-90)">130</text>
<rect class="b" x="1507" y="2453" width="31" height="48"/><text class="n" transform="translate(1530,2496) rotate(-90)">145</text>
<rect class="b" x="1538" y="2453" width="31" height="48"/><text class="n" transform="translate(1561,2496) rotate(-90)">157</text>
<rect class="b" x="1569" y="2453" width="31" height="48"/><text class="n" transform="translate(1592,2496) rotate(-90)">162</text>
<rect class="y" x="1600" y="2437" width="31" height="64"/><text class="n" transform="translate(1623,2496) rotate(-90)">242R</text>
<text class="t" x="1653" y="2487">Dinictis felina</text></g>
<g id="t-hoplophoneus">
<rect class="p" x="1414" y="2510.3" width="31" height="48"/><text class="n" transform="translate(1437,2553.3) rotate(-90)">4</text>
<rect class="b" x="1445" y="2510.3" width="31" height="48"/><text class="n" transform="translate(1468,2553.3) rotate(-90)">106</text>
<rect class="b" x="1476" y="2510.3" width="31" height="48"/><text class="n" transform="translate(1499,2553.3) rotate(-90)">122</text>
<rect class="b" x="1507" y="2510.3" width="31" height="48"/><text class="n" transform="translate(1530,2553.3) rotate(-90)">123</text>
<rect class="b" x="1538" y="2510.3" width="31" height="48"/><text class="n" transform="translate(1561,2553.3) rotate(-90)">124</text>
<rect class="b" x="1569" y="2510.3" width="31" height="48"/><text class="n" transform="translate(1592,2553.3) rotate(-90)">175</text>
<text class="t" x="1621" y="2544.3">Hoplophoneus<tspan class="r"> sp.</tspan></text></g>
<g id="node-15-226">
<rect class="p" x="1113" y="2598" width="31" height="48"/><text class="n" transform="translate(1136,2641) rotate(-90)">15</text>
<rect class="p" x="1144" y="2598" width="31" height="48"/><text class="n" transform="translate(1167,2641) rotate(-90)">26</text>
<rect class="p" x="1175" y="2598" width="31" height="48"/><text class="n" transform="translate(1198,2641) rotate(-90)">33</text>
<rect class="p" x="1206" y="2598" width="31" height="48"/><text class="n" transform="translate(1229,2641) rotate(-90)">40</text>
<rect class="y" x="1237" y="2598" width="31" height="48"/><text class="n" transform="translate(1260,2641) rotate(-90)">67</text>
<rect class="y" x="1268" y="2598" width="31" height="48"/><text class="n" transform="translate(1291,2641) rotate(-90)">226</text>
</g>
<g id="t-palaeoprionodon">
<rect class="p" x="1323" y="2567.6" width="31" height="48"/><text class="n" transform="translate(1346,2610.6) rotate(-90)">13</text>
<rect class="y" x="1354" y="2567.6" width="31" height="48"/><text class="n" transform="translate(1377,2610.6) rotate(-90)">52</text>
<rect class="y" x="1385" y="2567.6" width="31" height="48"/><text class="n" transform="translate(1408,2610.6) rotate(-90)">55</text>
<rect class="y" x="1416" y="2567.6" width="31" height="48"/><text class="n" transform="translate(1439,2610.6) rotate(-90)">218</text>
<rect class="y" x="1447" y="2567.6" width="31" height="48"/><text class="n" transform="translate(1470,2610.6) rotate(-90)">249</text>
<text class="t" x="1498" y="2601.6">Palaeoprionodon lamandini</text></g>
<g id="t-proailurus">
<rect class="p" x="1324" y="2624.9" width="31" height="48"/><text class="n" transform="translate(1347,2667.9) rotate(-90)">5</text>
<rect class="p" x="1355" y="2624.9" width="31" height="48"/><text class="n" transform="translate(1378,2667.9) rotate(-90)">36</text>
<rect class="y" x="1386" y="2624.9" width="31" height="48"/><text class="n" transform="translate(1409,2667.9) rotate(-90)">40</text>
<rect class="y" x="1417" y="2624.9" width="31" height="64"/><text class="n" transform="translate(1440,2683.9) rotate(-90)">242R</text>
<text class="t" x="1465" y="2658.9">Proailurus lemanensis</text></g>
</svg>
